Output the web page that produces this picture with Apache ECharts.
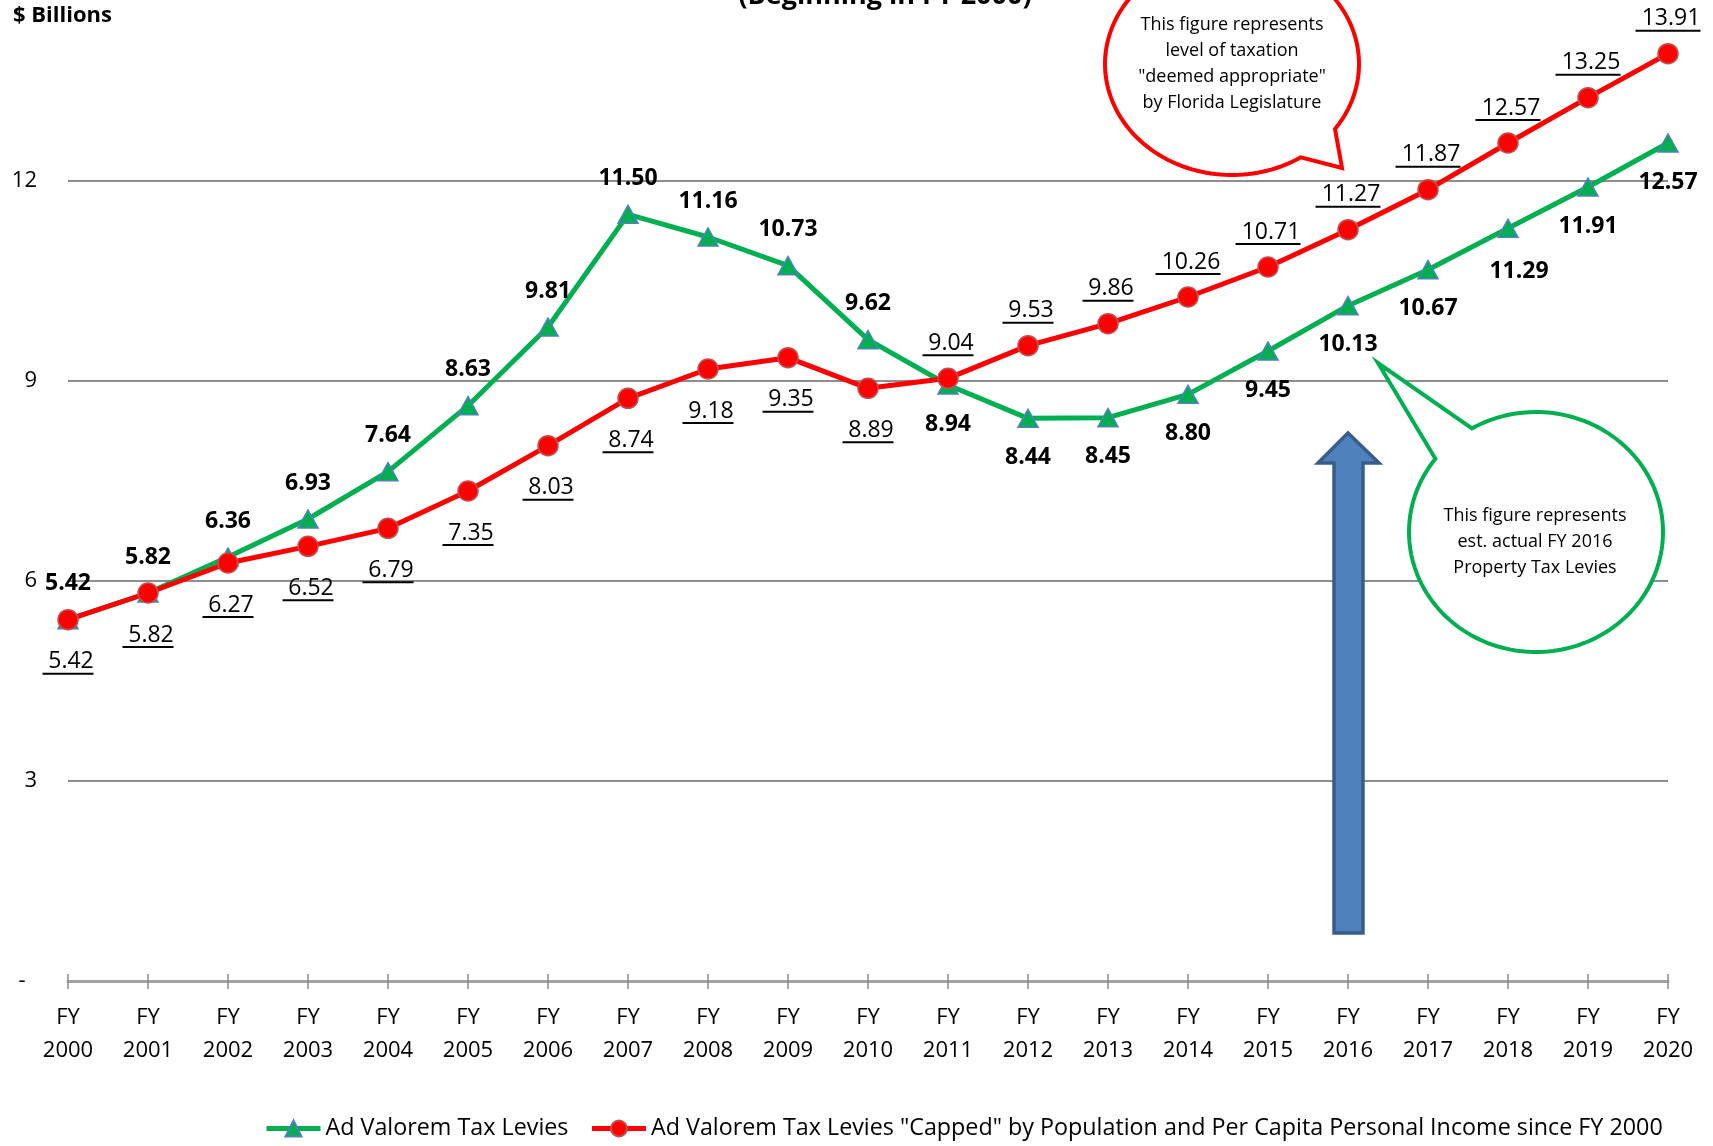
<!DOCTYPE html>
<html>
<head>
<meta charset="utf-8">
<script src="https://cdn.jsdelivr.net/npm/echarts@6/dist/echarts.min.js"></script>
<style>
html,body{margin:0;padding:0;background:#fff;}
#c{width:1713px;height:1146px;}
</style>
</head>
<body>
<div id="c"></div>
<script>
// ---- data ----
const years = ['2000','2001','2002','2003','2004','2005','2006','2007','2008','2009','2010',
               '2011','2012','2013','2014','2015','2016','2017','2018','2019','2020'];
const categories = years.map(function (y) { return 'FY\n' + y; });
const actualLevies = [5.42,5.82,6.36,6.93,7.64,8.63,9.81,11.50,11.16,10.73,9.62,
                      8.94,8.44,8.45,8.80,9.45,10.13,10.67,11.29,11.91,12.57];
const cappedLevies = [5.42,5.82,6.27,6.52,6.79,7.35,8.03,8.74,9.18,9.35,8.89,
                      9.04,9.53,9.86,10.26,10.71,11.27,11.87,12.57,13.25,13.91];
const yTickValues = [0,3,6,9,12,15];
const yTickLabels = ['-  ','3','6','9','12',''];
const seriesNames = ['Ad Valorem Tax Levies',
  'Ad Valorem Tax Levies "Capped" by Population and Per Capita Personal Income since FY 2000'];
const titleText = '(Beginning in FY 2000)';
const unitText = '$ Billions';
const redNote = 'This figure represents\nlevel of taxation\n"deemed appropriate"\nby Florida Legislature';
const greenNote = 'This figure represents\nest. actual FY 2016\nProperty Tax Levies';

// ---- styles ----
const FONT = '"Open Sans", "Noto Sans", sans-serif';
const GREEN = '#00b050', RED = '#ff0000';
const GRID = {left: 68, right: 45, top: -19, bottom: 165};
const RED_FS = 23;

const mctx = document.createElement('canvas').getContext('2d');
mctx.font = RED_FS + 'px "Open Sans"';
function textW(s) { return Math.round(mctx.measureText(s).width); }

const chart = echarts.init(document.getElementById('c'), null, {renderer: 'canvas'});

const greenData = actualLevies.map(function (v, i) {
  const above = v >= cappedLevies[i];
  let off = above ? [0, -36] : [0, 39];
  if (i === 18) off = [11, 43];
  return {value: v, label: {offset: off}};
});
const redData = cappedLevies.map(function (v, i) {
  const below = actualLevies[i] >= v;
  return {value: v, label: {offset: below ? [0, 43] : [0, -34]}};
});
const redRich = {t: {fontFamily: FONT, fontSize: RED_FS, lineHeight: 22, color: '#000'}};
cappedLevies.forEach(function (v, i) {
  redRich['u' + i] = {width: textW(' ' + v.toFixed(2)), height: 2, lineHeight: 2, backgroundColor: '#000', align: 'center'};
});

// bubble helpers
function bubble(cx, cy, rx, ry, t1deg, t2deg, tip) {
  const pts = [];
  const t1 = t1deg * Math.PI / 180;
  let t2 = t2deg * Math.PI / 180;
  while (t2 <= t1) t2 += 2 * Math.PI;
  const n = 160;
  for (let k = 0; k <= n; k++) {
    const t = t1 + (t2 - t1) * k / n;
    pts.push([cx + rx * Math.cos(t), cy + ry * Math.sin(t)]);
  }
  pts.push(tip);
  return pts;
}
const plotW = 1713 - GRID.left - GRID.right;
const step = plotW / (categories.length - 1);
const arrowX = GRID.left + step * 16;
const arrowPts = [
  [arrowX, 433], [arrowX + 31, 463], [arrowX + 15, 463], [arrowX + 15, 933],
  [arrowX - 14, 933], [arrowX - 14, 463], [arrowX - 30, 463]
];

const option = {
  backgroundColor: '#fff',
  animation: false,
  textStyle: {fontFamily: FONT},
  grid: Object.assign({outerBoundsMode: 'none', containLabel: false}, GRID),
  legend: {
    data: seriesNames,
    left: 259,
    top: 1112,
    itemWidth: 54,
    itemHeight: 20,
    itemGap: 21,
    lineStyle: {width: 5},
    textStyle: {fontFamily: FONT, fontSize: 23.3, color: '#000'}
  },
  xAxis: [{
    type: 'category',
    data: categories,
    boundaryGap: false,
    position: 'bottom',
    axisLine: {show: true, lineStyle: {color: '#a3a3a3', width: 3}},
    axisTick: {show: true, inside: false, length: 8, alignWithLabel: true, lineStyle: {color: '#8c8c8c', width: 1.5}},
    axisLabel: {color: '#000', fontFamily: FONT, fontSize: 22, lineHeight: 33, margin: 20, interval: 0},
    splitLine: {show: false}
  }, {
    type: 'category',
    data: categories,
    boundaryGap: false,
    position: 'bottom',
    axisLine: {show: false},
    axisTick: {show: true, inside: true, length: 7, lineStyle: {color: '#8c8c8c', width: 1.5}},
    axisLabel: {show: false},
    splitLine: {show: false}
  }],
  yAxis: {
    type: 'value',
    min: yTickValues[0],
    max: yTickValues[yTickValues.length - 1],
    interval: 3,
    axisLine: {show: false},
    axisTick: {show: false},
    axisLabel: {
      color: '#000', fontFamily: FONT, fontSize: 22, margin: 31,
      formatter: function (v) {
        const idx = yTickValues.indexOf(v);
        return idx >= 0 ? yTickLabels[idx] : '';
      }
    },
    splitLine: {show: true, lineStyle: {color: '#8e8e8e', width: 2}}
  },
  series: [{
    name: seriesNames[0],
    type: 'line',
    xAxisIndex: 0,
    data: greenData,
    symbol: 'triangle',
    symbolSize: [20, 18],
    lineStyle: {color: GREEN, width: 5},
    itemStyle: {color: GREEN, borderColor: '#4f81bd', borderWidth: 1.5},
    label: {
      show: true, position: 'inside',
      fontFamily: FONT, fontSize: 23, fontWeight: 'bold', color: '#000',
      formatter: function (p) { return p.value.toFixed(2); }
    },
    z: 2
  }, {
    name: seriesNames[1],
    type: 'line',
    xAxisIndex: 0,
    data: redData,
    symbol: 'circle',
    symbolSize: 20,
    lineStyle: {color: RED, width: 5},
    itemStyle: {color: RED, borderColor: '#c0504d', borderWidth: 1.5},
    label: {
      show: true, position: 'inside',
      fontFamily: FONT, fontSize: RED_FS, color: '#000',
      formatter: function (p) { return '{t| ' + p.value.toFixed(2) + '}\n{u' + p.dataIndex + '|}'; },
      rich: redRich
    },
    z: 3
  }],
  graphic: [
    {type: 'text', x: 885, y: -4, z: 10,
     style: {text: titleText, fontFamily: FONT, fontSize: 27, fontWeight: 'bold', fill: '#000', align: 'center', verticalAlign: 'middle'}},
    {type: 'text', x: 13, y: 16, z: 10,
     style: {text: unitText, fontFamily: FONT, fontSize: 22, fontWeight: 'bold', fill: '#000', align: 'left', verticalAlign: 'middle'}},
    {type: 'polygon', z: 10,
     shape: {points: bubble(1232, 64, 127, 111, 57.2, 35.8, [1342, 168])},
     style: {fill: '#fff', stroke: RED, lineWidth: 4, lineJoin: 'miter'}},
    {type: 'text', x: 1232, y: 64, z: 11,
     style: {text: redNote, fontFamily: FONT, fontSize: 18, lineHeight: 26, fill: '#000', align: 'center', verticalAlign: 'middle'}},
    {type: 'polygon', z: 10,
     shape: {points: bubble(1536, 532, 127, 120, 239.7, 217.6, [1378, 363])},
     style: {fill: '#fff', stroke: GREEN, lineWidth: 4, lineJoin: 'miter'}},
    {type: 'text', x: 1535, y: 542, z: 11,
     style: {text: greenNote, fontFamily: FONT, fontSize: 18, lineHeight: 26, fill: '#000', align: 'center', verticalAlign: 'middle'}},
    {type: 'polygon', z: 10,
     shape: {points: arrowPts},
     style: {fill: '#4f81bd', stroke: '#385d8a', lineWidth: 3.5, lineJoin: 'miter'}}
  ]
};
chart.setOption(option);
</script>
</body>
</html>
